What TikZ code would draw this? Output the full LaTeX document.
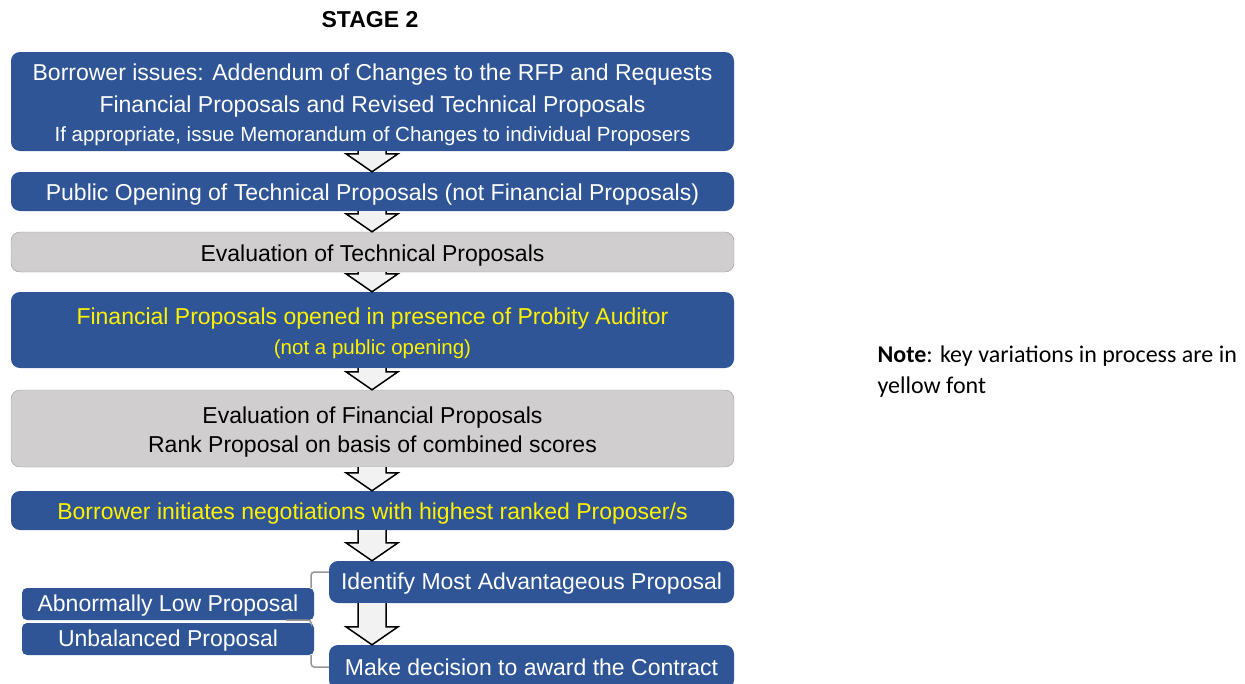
\documentclass[tikz,border=0pt]{standalone}
\usepackage{fontspec}
\setmainfont{Liberation Sans}
\newfontfamily\notefont{Carlito}
\usetikzlibrary{calc}
\definecolor{stepblue}{RGB}{47,85,151}
\definecolor{stepgray}{RGB}{208,206,206}
\definecolor{arrowfill}{RGB}{242,242,242}
\definecolor{linkgray}{RGB}{150,150,150}
\newcommand\toppad[1]{\rule{0pt}{#1}}

\begin{document}
\begin{tikzpicture}[x=1pt,y=-1pt,
    padtop/.store in=\boxpad, padtop=23pt,
    bluebox/.style={fill=stepblue, text=white, rounded corners=9pt, inner sep=0pt,
      align=center, font=\fontsize{23}{31}\selectfont,
      execute at begin node={\toppad{\boxpad}}},
    graybox/.style={bluebox, fill=stepgray, draw=gray!80, text=black},
    bigarrow/.style={draw=black, fill=arrowfill, line width=1.5pt},
    link/.style={draw=linkgray, line width=1.5pt, rounded corners=3pt}]
    \useasboundingbox (0,0) rectangle (1245,683);
    \coordinate (mid) at (372,0);

    % Title
    \node[font=\bfseries\fontsize{23}{23}\selectfont] (title) at (370,20) {STAGE 2};

    % Main steps
    \node[bluebox, minimum width=723pt, minimum height=99pt] (issue) at (372.5,101.5)
        {\toppad{24pt}Borrower issues: Addendum of Changes to the RFP and Requests\\[1pt]
         Financial Proposals and Revised Technical Proposals\\[-2pt]
         {\fontsize{20.5}{20.5}\selectfont If appropriate, issue Memorandum of Changes to individual Proposers}};
    \node[bluebox, minimum width=723pt, minimum height=39pt] (opentech) at (372.5,191.5)
        {Public Opening of Technical Proposals (not Financial Proposals)};
    \node[graybox, minimum width=723pt, minimum height=40pt] (evaltech) at (372.5,252)
        {Evaluation of Technical Proposals};
    \node[bluebox, text=yellow, minimum width=723pt, minimum height=76pt] (openfin) at (372.5,330)
        {\toppad{23pt}Financial Proposals opened in presence of Probity Auditor\\[-1pt]
         {\fontsize{20.5}{20.5}\selectfont (not a public opening)}};
    \node[graybox, minimum width=723pt, minimum height=77pt] (evalfin) at (372.5,428.5)
        {\toppad{24pt}Evaluation of Financial Proposals\\[-2pt]Rank Proposal on basis of combined scores};
    \node[bluebox, text=yellow, minimum width=723pt, minimum height=39pt] (negot) at (372.5,510.5)
        {Borrower initiates negotiations with highest ranked Proposer/s};
    \node[bluebox, padtop=19pt, minimum width=405pt, minimum height=42pt] (ident) at (531.5,582)
        {Identify Most Advantageous Proposal};
    \node[bluebox, padtop=17pt, minimum width=405pt, minimum height=44pt] (award) at (531.5,667)
        {Make decision to award the Contract};

    % Side checks
    \node[bluebox, padtop=19pt, rounded corners=5pt, minimum width=292pt, minimum height=32pt] (lowprop) at (168,604)
        {Abnormally Low Proposal};
    \node[bluebox, padtop=20pt, rounded corners=5pt, minimum width=292pt, minimum height=32pt] (unbal) at (168,639)
        {Unbalanced Proposal};

    % Block arrows
    \foreach \a/\b in {issue/opentech, opentech/evaltech, evaltech/openfin,
                       openfin/evalfin, evalfin/negot, negot/ident, ident/award}
        \draw[bigarrow] ($(\a.south -| mid)+(-14,0)$) -- ($(\b.north -| mid)+(-14,-18)$)
            -- ++(-12,0) -- (\b.north -| mid) -- ($(\b.north -| mid)+(26,-18)$)
            -- ++(-12,0) -- ($(\a.south -| mid)+(14,0)$);

    % Links
    \draw[link] ([yshift=10pt]ident.west) -| ([xshift=-3pt]lowprop.north east);
    \draw[link] ([xshift=-28pt]lowprop.south east) -- ([xshift=-3pt]lowprop.south east)
        -- ([xshift=-3pt]unbal.north east);
    \draw[link] ([xshift=-3pt]unbal.south east) |- (award.west);

    % Note
    \node[anchor=north west, align=left, font=\notefont\fontsize{24}{31}\selectfont] (note) at (874,342)
        {\textbf{Note}: key variations in process are in\\yellow font};
\end{tikzpicture}
\end{document}
